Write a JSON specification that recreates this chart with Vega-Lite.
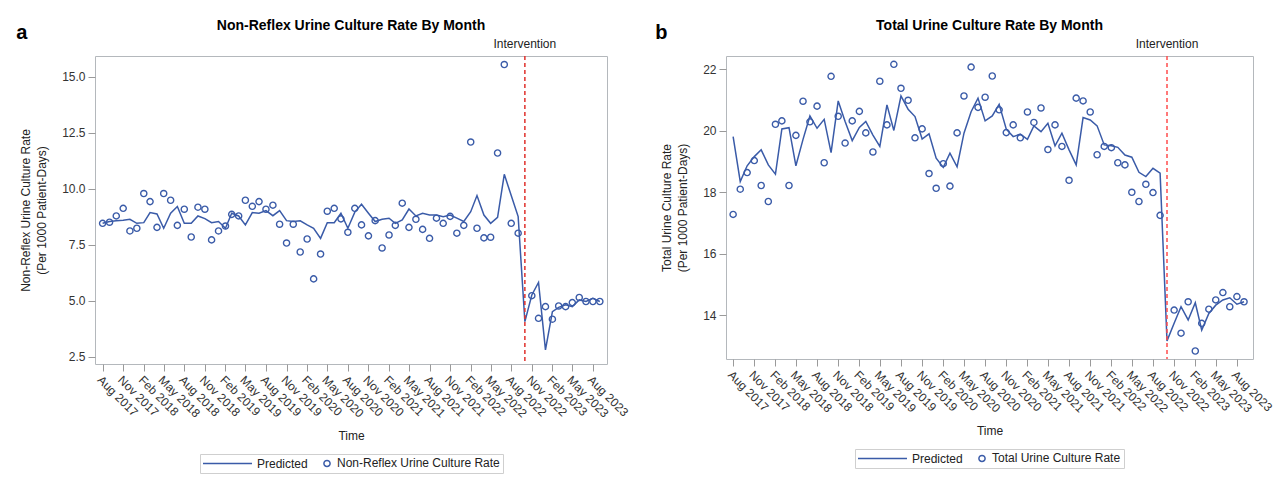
{
  "$schema": "https://vega.github.io/schema/vega-lite/v6.json",
  "background": "white",
  "padding": {"left": 16, "top": 18, "right": 5, "bottom": 5},
  "spacing": 24,
  "datasets": {
    "nonreflex": [
      {"month": "2017-08-01", "observed": 8.45, "predicted": 8.45},
      {"month": "2017-09-01", "observed": 8.50, "predicted": 8.53},
      {"month": "2017-10-01", "observed": 8.78, "predicted": 8.56},
      {"month": "2017-11-01", "observed": 9.12, "predicted": 8.59},
      {"month": "2017-12-01", "observed": 8.11, "predicted": 8.63},
      {"month": "2018-01-01", "observed": 8.23, "predicted": 8.45},
      {"month": "2018-02-01", "observed": 9.78, "predicted": 8.48},
      {"month": "2018-03-01", "observed": 9.42, "predicted": 8.93},
      {"month": "2018-04-01", "observed": 8.27, "predicted": 8.87},
      {"month": "2018-05-01", "observed": 9.78, "predicted": 8.23},
      {"month": "2018-06-01", "observed": 9.48, "predicted": 8.90},
      {"month": "2018-07-01", "observed": 8.36, "predicted": 9.20},
      {"month": "2018-08-01", "observed": 9.08, "predicted": 8.45},
      {"month": "2018-09-01", "observed": 7.84, "predicted": 8.45},
      {"month": "2018-10-01", "observed": 9.17, "predicted": 8.78},
      {"month": "2018-11-01", "observed": 9.08, "predicted": 8.66},
      {"month": "2018-12-01", "observed": 7.71, "predicted": 8.48},
      {"month": "2019-01-01", "observed": 8.11, "predicted": 8.53},
      {"month": "2019-02-01", "observed": 8.33, "predicted": 8.23},
      {"month": "2019-03-01", "observed": 8.85, "predicted": 8.90},
      {"month": "2019-04-01", "observed": 8.78, "predicted": 8.78},
      {"month": "2019-05-01", "observed": 9.48, "predicted": 8.38},
      {"month": "2019-06-01", "observed": 9.21, "predicted": 8.93},
      {"month": "2019-07-01", "observed": 9.42, "predicted": 8.90},
      {"month": "2019-08-01", "observed": 9.08, "predicted": 9.02},
      {"month": "2019-09-01", "observed": 9.26, "predicted": 8.79},
      {"month": "2019-10-01", "observed": 8.41, "predicted": 9.02},
      {"month": "2019-11-01", "observed": 7.57, "predicted": 8.57},
      {"month": "2019-12-01", "observed": 8.41, "predicted": 8.53},
      {"month": "2020-01-01", "observed": 7.17, "predicted": 8.56},
      {"month": "2020-02-01", "observed": 7.75, "predicted": 8.38},
      {"month": "2020-03-01", "observed": 5.97, "predicted": 8.23},
      {"month": "2020-04-01", "observed": 7.08, "predicted": 7.78},
      {"month": "2020-05-01", "observed": 8.99, "predicted": 8.48},
      {"month": "2020-06-01", "observed": 9.12, "predicted": 8.48},
      {"month": "2020-07-01", "observed": 8.65, "predicted": 8.90},
      {"month": "2020-08-01", "observed": 8.05, "predicted": 8.23},
      {"month": "2020-09-01", "observed": 9.12, "predicted": 8.95},
      {"month": "2020-10-01", "observed": 8.38, "predicted": 9.30},
      {"month": "2020-11-01", "observed": 7.89, "predicted": 8.90},
      {"month": "2020-12-01", "observed": 8.57, "predicted": 8.53},
      {"month": "2021-01-01", "observed": 7.35, "predicted": 8.63},
      {"month": "2021-02-01", "observed": 7.93, "predicted": 8.68},
      {"month": "2021-03-01", "observed": 8.36, "predicted": 8.45},
      {"month": "2021-04-01", "observed": 9.35, "predicted": 8.60},
      {"month": "2021-05-01", "observed": 8.27, "predicted": 9.09},
      {"month": "2021-06-01", "observed": 8.63, "predicted": 8.78},
      {"month": "2021-07-01", "observed": 8.18, "predicted": 8.90},
      {"month": "2021-08-01", "observed": 7.78, "predicted": 8.82},
      {"month": "2021-09-01", "observed": 8.68, "predicted": 8.82},
      {"month": "2021-10-01", "observed": 8.45, "predicted": 8.75},
      {"month": "2021-11-01", "observed": 8.76, "predicted": 8.82},
      {"month": "2021-12-01", "observed": 8.01, "predicted": 8.68},
      {"month": "2022-01-01", "observed": 8.36, "predicted": 8.53},
      {"month": "2022-02-01", "observed": 12.08, "predicted": 8.97},
      {"month": "2022-03-01", "observed": 8.23, "predicted": 9.69},
      {"month": "2022-04-01", "observed": 7.80, "predicted": 8.82},
      {"month": "2022-05-01", "observed": 7.83, "predicted": 8.45},
      {"month": "2022-06-01", "observed": 11.59, "predicted": 8.72},
      {"month": "2022-07-01", "observed": 15.54, "predicted": 10.64},
      {"month": "2022-08-01", "observed": 8.45, "predicted": 9.69},
      {"month": "2022-09-01", "observed": 8.01, "predicted": 8.75},
      {"month": "2022-10-01", "observed": null, "predicted": 4.06},
      {"month": "2022-11-01", "observed": 5.22, "predicted": 5.25},
      {"month": "2022-12-01", "observed": 4.21, "predicted": 5.81},
      {"month": "2023-01-01", "observed": 4.73, "predicted": 2.80},
      {"month": "2023-02-01", "observed": 4.17, "predicted": 4.51},
      {"month": "2023-03-01", "observed": 4.76, "predicted": 4.70},
      {"month": "2023-04-01", "observed": 4.73, "predicted": 4.81},
      {"month": "2023-05-01", "observed": 4.91, "predicted": 4.73},
      {"month": "2023-06-01", "observed": 5.14, "predicted": 5.03},
      {"month": "2023-07-01", "observed": 4.96, "predicted": 4.96},
      {"month": "2023-08-01", "observed": 4.96, "predicted": 5.10},
      {"month": "2023-09-01", "observed": 4.96, "predicted": 4.96}
    ],
    "total": [
      {"month": "2017-08-01", "observed": 17.28, "predicted": 19.81},
      {"month": "2017-09-01", "observed": 18.10, "predicted": 18.35},
      {"month": "2017-10-01", "observed": 18.64, "predicted": 18.86},
      {"month": "2017-11-01", "observed": 19.03, "predicted": 19.16},
      {"month": "2017-12-01", "observed": 18.22, "predicted": 19.38},
      {"month": "2018-01-01", "observed": 17.70, "predicted": 18.89},
      {"month": "2018-02-01", "observed": 20.21, "predicted": 18.59},
      {"month": "2018-03-01", "observed": 20.32, "predicted": 20.06},
      {"month": "2018-04-01", "observed": 18.22, "predicted": 20.10},
      {"month": "2018-05-01", "observed": 19.85, "predicted": 18.86},
      {"month": "2018-06-01", "observed": 20.96, "predicted": 19.72},
      {"month": "2018-07-01", "observed": 20.29, "predicted": 20.48},
      {"month": "2018-08-01", "observed": 20.80, "predicted": 20.08},
      {"month": "2018-09-01", "observed": 18.96, "predicted": 20.37},
      {"month": "2018-10-01", "observed": 21.77, "predicted": 19.29},
      {"month": "2018-11-01", "observed": 20.47, "predicted": 20.97},
      {"month": "2018-12-01", "observed": 19.60, "predicted": 20.30},
      {"month": "2019-01-01", "observed": 20.32, "predicted": 19.68},
      {"month": "2019-02-01", "observed": 20.63, "predicted": 20.11},
      {"month": "2019-03-01", "observed": 19.93, "predicted": 20.30},
      {"month": "2019-04-01", "observed": 19.31, "predicted": 19.86},
      {"month": "2019-05-01", "observed": 21.61, "predicted": 19.49},
      {"month": "2019-06-01", "observed": 20.19, "predicted": 20.84},
      {"month": "2019-07-01", "observed": 22.16, "predicted": 20.01},
      {"month": "2019-08-01", "observed": 21.38, "predicted": 21.13},
      {"month": "2019-09-01", "observed": 20.99, "predicted": 20.70},
      {"month": "2019-10-01", "observed": 19.77, "predicted": 20.46},
      {"month": "2019-11-01", "observed": 20.06, "predicted": 19.73},
      {"month": "2019-12-01", "observed": 18.61, "predicted": 19.90},
      {"month": "2020-01-01", "observed": 18.13, "predicted": 19.11},
      {"month": "2020-02-01", "observed": 18.93, "predicted": 18.81},
      {"month": "2020-03-01", "observed": 18.20, "predicted": 19.27},
      {"month": "2020-04-01", "observed": 19.93, "predicted": 18.83},
      {"month": "2020-05-01", "observed": 21.13, "predicted": 19.92},
      {"month": "2020-06-01", "observed": 22.07, "predicted": 20.62},
      {"month": "2020-07-01", "observed": 20.76, "predicted": 21.06},
      {"month": "2020-08-01", "observed": 21.09, "predicted": 20.32},
      {"month": "2020-09-01", "observed": 21.78, "predicted": 20.48},
      {"month": "2020-10-01", "observed": 20.68, "predicted": 20.86},
      {"month": "2020-11-01", "observed": 19.94, "predicted": 20.05},
      {"month": "2020-12-01", "observed": 20.19, "predicted": 19.81},
      {"month": "2021-01-01", "observed": 19.77, "predicted": 19.89},
      {"month": "2021-02-01", "observed": 20.61, "predicted": 19.72},
      {"month": "2021-03-01", "observed": 20.27, "predicted": 20.16},
      {"month": "2021-04-01", "observed": 20.74, "predicted": 19.97},
      {"month": "2021-05-01", "observed": 19.39, "predicted": 20.24},
      {"month": "2021-06-01", "observed": 20.19, "predicted": 19.51},
      {"month": "2021-07-01", "observed": 19.49, "predicted": 19.92},
      {"month": "2021-08-01", "observed": 18.39, "predicted": 19.38},
      {"month": "2021-09-01", "observed": 21.06, "predicted": 18.89},
      {"month": "2021-10-01", "observed": 20.97, "predicted": 20.43},
      {"month": "2021-11-01", "observed": 20.61, "predicted": 20.35},
      {"month": "2021-12-01", "observed": 19.22, "predicted": 20.16},
      {"month": "2022-01-01", "observed": 19.49, "predicted": 19.54},
      {"month": "2022-02-01", "observed": 19.45, "predicted": 19.51},
      {"month": "2022-03-01", "observed": 18.96, "predicted": 19.46},
      {"month": "2022-04-01", "observed": 18.89, "predicted": 19.21},
      {"month": "2022-05-01", "observed": 18.00, "predicted": 19.14},
      {"month": "2022-06-01", "observed": 17.70, "predicted": 18.65},
      {"month": "2022-07-01", "observed": 18.26, "predicted": 18.51},
      {"month": "2022-08-01", "observed": 17.99, "predicted": 18.78},
      {"month": "2022-09-01", "observed": 17.25, "predicted": 18.62},
      {"month": "2022-10-01", "observed": null, "predicted": 13.17},
      {"month": "2022-11-01", "observed": 14.17, "predicted": 13.74},
      {"month": "2022-12-01", "observed": 13.42, "predicted": 14.28},
      {"month": "2023-01-01", "observed": 14.44, "predicted": 13.85},
      {"month": "2023-02-01", "observed": 12.84, "predicted": 14.41},
      {"month": "2023-03-01", "observed": 13.74, "predicted": 13.52},
      {"month": "2023-04-01", "observed": 14.20, "predicted": 14.06},
      {"month": "2023-05-01", "observed": 14.50, "predicted": 14.33},
      {"month": "2023-06-01", "observed": 14.74, "predicted": 14.50},
      {"month": "2023-07-01", "observed": 14.28, "predicted": 14.57},
      {"month": "2023-08-01", "observed": 14.61, "predicted": 14.36},
      {"month": "2023-09-01", "observed": 14.44, "predicted": 14.44}
    ],
    "intervention": [
      {"month": "2022-10-01", "label": "Intervention"}
    ]
  },
  "hconcat": [
    {
      "title": {"text": "a", "anchor": "start", "frame": "bounds", "offset": -24, "fontSize": 20, "fontWeight": "bold", "dx": -3},
      "resolve": {"scale": {"color": "independent"}, "legend": {"color": "independent"}},
      "vconcat": [
        {
          "title": {"text": "Non-Reflex Urine Culture Rate By Month"},
          "width": 512,
          "height": 308,
          "encoding": {
            "x": {
              "field": "month",
              "type": "temporal",
              "scale": {"type": "utc", "domain": [{"year": 2017, "month": 6, "date": 28, "utc": true}, {"year": 2023, "month": 10, "date": 3, "utc": true}]},
              "axis": {
                "title": "Time",
                "format": "%b %Y",
                "labelAngle": 45,
                "labelAlign": "left",
                "labelBaseline": "top",
                "labelFlush": false,
                "labelOverlap": false,
                "titlePadding": 11,
                "values": [
                  {"year": 2017, "month": 8, "date": 1, "utc": true},
                  {"year": 2017, "month": 11, "date": 1, "utc": true},
                  {"year": 2018, "month": 2, "date": 1, "utc": true},
                  {"year": 2018, "month": 5, "date": 1, "utc": true},
                  {"year": 2018, "month": 8, "date": 1, "utc": true},
                  {"year": 2018, "month": 11, "date": 1, "utc": true},
                  {"year": 2019, "month": 2, "date": 1, "utc": true},
                  {"year": 2019, "month": 5, "date": 1, "utc": true},
                  {"year": 2019, "month": 8, "date": 1, "utc": true},
                  {"year": 2019, "month": 11, "date": 1, "utc": true},
                  {"year": 2020, "month": 2, "date": 1, "utc": true},
                  {"year": 2020, "month": 5, "date": 1, "utc": true},
                  {"year": 2020, "month": 8, "date": 1, "utc": true},
                  {"year": 2020, "month": 11, "date": 1, "utc": true},
                  {"year": 2021, "month": 2, "date": 1, "utc": true},
                  {"year": 2021, "month": 5, "date": 1, "utc": true},
                  {"year": 2021, "month": 8, "date": 1, "utc": true},
                  {"year": 2021, "month": 11, "date": 1, "utc": true},
                  {"year": 2022, "month": 2, "date": 1, "utc": true},
                  {"year": 2022, "month": 5, "date": 1, "utc": true},
                  {"year": 2022, "month": 8, "date": 1, "utc": true},
                  {"year": 2022, "month": 11, "date": 1, "utc": true},
                  {"year": 2023, "month": 2, "date": 1, "utc": true},
                  {"year": 2023, "month": 5, "date": 1, "utc": true},
                  {"year": 2023, "month": 8, "date": 1, "utc": true}
                ]
              }
            }
          },
          "layer": [
            {
              "data": {"name": "nonreflex"},
              "mark": {"type": "line", "strokeWidth": 1.5},
              "encoding": {
                "y": {
                  "field": "predicted",
                  "type": "quantitative",
                  "scale": {"domain": [2.17, 15.92], "nice": false, "zero": false},
                  "axis": {"title": ["Non-Reflex Urine Culture Rate", "(Per 1000 Patient-Days)"], "values": [2.5, 5, 7.5, 10, 12.5, 15], "format": ".1f", "titlePadding": 13, "titleLineHeight": 16}
                },
                "color": {
                  "datum": "Predicted",
                  "scale": {"domain": ["Predicted", "Non-Reflex Urine Culture Rate"], "range": ["#3a5ba8", "#3a5ba8"]},
                  "legend": {
                    "title": null,
                    "labelLimit": 400,
                    "encode": {
                      "symbols": {"update": {
                        "shape": {"signal": "datum.value === 'Predicted' ? 'stroke' : 'circle'"},
                        "size": {"signal": "datum.value === 'Predicted' ? 2400 : 38"},
                        "x": {"signal": "datum.value === 'Predicted' ? 24.5 : 4"},
                        "strokeWidth": {"value": 1.5},
                        "fill": {"value": "transparent"},
                        "stroke": {"value": "#3a5ba8"}
                      }},
                      "labels": {"update": {
                        "x": {"signal": "datum.value === 'Predicted' ? 54 : 14"}
                      }}
                    }
                  }
                }
              }
            },
            {
              "data": {"name": "nonreflex"},
              "mark": {"type": "point", "filled": false, "size": 38, "strokeWidth": 1.4, "opacity": 1},
              "encoding": {
                "y": {"field": "observed", "type": "quantitative"},
                "color": {"datum": "Non-Reflex Urine Culture Rate"}
              }
            },
            {
              "data": {"name": "intervention"},
              "mark": {"type": "rule", "color": "#e0302c", "strokeDash": [4, 3], "strokeWidth": 1.5},
              "encoding": {}
            },
            {
              "data": {"name": "intervention"},
              "mark": {"type": "text", "baseline": "bottom", "align": "center", "dy": -5, "fontSize": 12, "color": "#222"},
              "encoding": {
                "y": {"datum": 15.92},
                "text": {"field": "label"}
              }
            }
          ]
        }
      ]
    },
    {
      "title": {"text": "b", "anchor": "start", "frame": "bounds", "offset": -24, "fontSize": 20, "fontWeight": "bold", "dx": -5},
      "resolve": {"scale": {"color": "independent"}, "legend": {"color": "independent"}},
      "vconcat": [
        {
          "title": {"text": "Total Urine Culture Rate By Month"},
          "width": 527,
          "height": 303,
          "encoding": {
            "x": {
              "field": "month",
              "type": "temporal",
              "scale": {"type": "utc", "domain": [{"year": 2017, "month": 7, "date": 1, "utc": true}, {"year": 2023, "month": 10, "date": 10, "utc": true}]},
              "axis": {
                "title": "Time",
                "format": "%b %Y",
                "labelAngle": 45,
                "labelAlign": "left",
                "labelBaseline": "top",
                "labelFlush": false,
                "labelOverlap": false,
                "titlePadding": 11,
                "values": [
                  {"year": 2017, "month": 8, "date": 1, "utc": true},
                  {"year": 2017, "month": 11, "date": 1, "utc": true},
                  {"year": 2018, "month": 2, "date": 1, "utc": true},
                  {"year": 2018, "month": 5, "date": 1, "utc": true},
                  {"year": 2018, "month": 8, "date": 1, "utc": true},
                  {"year": 2018, "month": 11, "date": 1, "utc": true},
                  {"year": 2019, "month": 2, "date": 1, "utc": true},
                  {"year": 2019, "month": 5, "date": 1, "utc": true},
                  {"year": 2019, "month": 8, "date": 1, "utc": true},
                  {"year": 2019, "month": 11, "date": 1, "utc": true},
                  {"year": 2020, "month": 2, "date": 1, "utc": true},
                  {"year": 2020, "month": 5, "date": 1, "utc": true},
                  {"year": 2020, "month": 8, "date": 1, "utc": true},
                  {"year": 2020, "month": 11, "date": 1, "utc": true},
                  {"year": 2021, "month": 2, "date": 1, "utc": true},
                  {"year": 2021, "month": 5, "date": 1, "utc": true},
                  {"year": 2021, "month": 8, "date": 1, "utc": true},
                  {"year": 2021, "month": 11, "date": 1, "utc": true},
                  {"year": 2022, "month": 2, "date": 1, "utc": true},
                  {"year": 2022, "month": 5, "date": 1, "utc": true},
                  {"year": 2022, "month": 8, "date": 1, "utc": true},
                  {"year": 2022, "month": 11, "date": 1, "utc": true},
                  {"year": 2023, "month": 2, "date": 1, "utc": true},
                  {"year": 2023, "month": 5, "date": 1, "utc": true},
                  {"year": 2023, "month": 8, "date": 1, "utc": true}
                ]
              }
            }
          },
          "layer": [
            {
              "data": {"name": "total"},
              "mark": {"type": "line", "strokeWidth": 1.5},
              "encoding": {
                "y": {
                  "field": "predicted",
                  "type": "quantitative",
                  "scale": {"domain": [12.58, 22.43], "nice": false, "zero": false},
                  "axis": {"title": ["Total Urine Culture Rate", "(Per 1000 Patient-Days)"], "values": [14, 16, 18, 20, 22], "format": "d", "titlePadding": 13, "titleLineHeight": 16}
                },
                "color": {
                  "datum": "Predicted",
                  "scale": {"domain": ["Predicted", "Total Urine Culture Rate"], "range": ["#3a5ba8", "#3a5ba8"]},
                  "legend": {
                    "title": null,
                    "labelLimit": 400,
                    "encode": {
                      "symbols": {"update": {
                        "shape": {"signal": "datum.value === 'Predicted' ? 'stroke' : 'circle'"},
                        "size": {"signal": "datum.value === 'Predicted' ? 2400 : 38"},
                        "x": {"signal": "datum.value === 'Predicted' ? 24.5 : 4"},
                        "strokeWidth": {"value": 1.5},
                        "fill": {"value": "transparent"},
                        "stroke": {"value": "#3a5ba8"}
                      }},
                      "labels": {"update": {
                        "x": {"signal": "datum.value === 'Predicted' ? 54 : 14"}
                      }}
                    }
                  }
                }
              }
            },
            {
              "data": {"name": "total"},
              "mark": {"type": "point", "filled": false, "size": 38, "strokeWidth": 1.4, "opacity": 1},
              "encoding": {
                "y": {"field": "observed", "type": "quantitative"},
                "color": {"datum": "Total Urine Culture Rate"}
              }
            },
            {
              "data": {"name": "intervention"},
              "mark": {"type": "rule", "color": "#ff4d4d", "strokeDash": [4, 3], "strokeWidth": 1.5},
              "encoding": {}
            },
            {
              "data": {"name": "intervention"},
              "mark": {"type": "text", "baseline": "bottom", "align": "center", "dy": -5, "fontSize": 12, "color": "#222"},
              "encoding": {
                "y": {"datum": 22.43},
                "text": {"field": "label"}
              }
            }
          ]
        }
      ]
    }
  ],
  "resolve": {
    "scale": {"x": "independent", "y": "independent", "color": "independent"},
    "axis": {"x": "independent", "y": "independent"},
    "legend": {"color": "independent"}
  },
  "config": {
    "font": "Liberation Sans",
    "view": {"stroke": "#b4b8bc"},
    "title": {"fontSize": 14, "fontWeight": "bold", "color": "#000", "offset": 5},
    "axis": {
      "labelFont": "Liberation Sans",
      "labelFontSize": 12,
      "labelColor": "#333",
      "labelPadding": 3,
      "titleFont": "Liberation Sans",
      "titleFontSize": 12,
      "titleFontWeight": "normal",
      "titleColor": "#222",
      "tickColor": "#9a9a9a",
      "tickSize": 7,
      "domain": false,
      "grid": false
    },
    "legend": {
      "orient": "bottom",
      "direction": "horizontal",
      "labelFont": "Liberation Sans",
      "labelFontSize": 12,
      "labelColor": "#222",
      "strokeColor": "#cfcfcf",
      "padding": 3,
      "columnPadding": 12,
      "offset": 12,
      "layout": {"bottom": {"anchor": "middle"}}
    }
  }
}
